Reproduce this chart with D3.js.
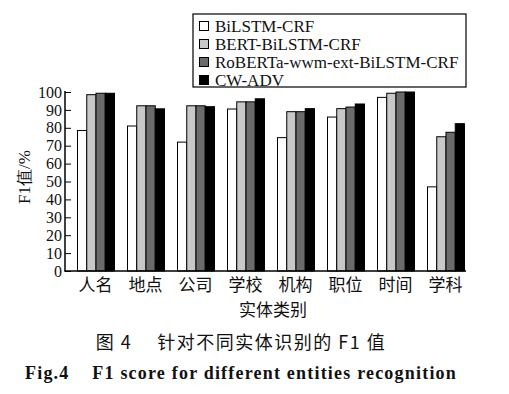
<!DOCTYPE html>
<html>
<head>
<meta charset="utf-8">
<script src="https://cdn.jsdelivr.net/npm/d3@7"></script>
<style>
  body { margin: 0; background: #fff; }
  text { fill: #111; }
</style>
</head>
<body>
<div id="chart"></div>
<script>
// DATA
var categories = ['人名', '地点', '公司', '学校', '机构', '职位', '时间', '学科'];
var models = ['BiLSTM-CRF', 'BERT-BiLSTM-CRF', 'RoBERTa-wwm-ext-BiLSTM-CRF', 'CW-ADV'];
var bilstm   = [78.5, 81.0, 72.0, 90.5, 74.5, 86.0, 97.0, 47.0];
var bert     = [98.5, 92.3, 92.3, 94.5, 89.0, 90.7, 99.3, 75.0];
var roberta  = [99.3, 92.3, 92.3, 94.5, 89.0, 91.6, 100.0, 77.5];
var cwadv    = [99.3, 90.6, 91.8, 96.2, 90.7, 93.3, 100.0, 82.3];
var yTicks   = [0, 10, 20, 30, 40, 50, 60, 70, 80, 90, 100];
var colors   = ['#ffffff', '#c8c8c8', '#6b6b6b', '#000000'];

var series = [bilstm, bert, roberta, cwadv];

// SETUP
var width = 509, height = 394;
var svg = d3.select('#chart').append('svg')
    .attr('width', width).attr('height', height);

var x0 = d3.scaleBand()
    .domain(categories)
    .range([70.5, 470.5])
    .paddingInner(0.26)
    .paddingOuter(0.13);

var x1 = d3.scaleBand()
    .domain(d3.range(models.length))
    .range([0, x0.bandwidth()]);

var y = d3.scaleLinear().domain([0, 100]).range([271, 92]);

var serif = '"Liberation Serif", "DejaVu Serif", serif';
var cjk = '"Noto Sans CJK SC", sans-serif';

// bars
categories.forEach(function(c, i) {
  var g = svg.append('g').attr('transform', 'translate(' + x0(c) + ',0)');
  series.forEach(function(s, k) {
    g.append('rect')
      .attr('x', x1(k) + 0.5)
      .attr('y', y(s[i]))
      .attr('width', x1.bandwidth())
      .attr('height', y(0) - y(s[i]))
      .attr('fill', colors[k])
      .attr('stroke', '#000')
      .attr('stroke-width', 1);
  });
});

// y axis (ticks pointing inward)
var yAxis = svg.append('g')
    .attr('transform', 'translate(65,0)')
    .call(d3.axisRight(y).tickValues(yTicks).tickSize(6).tickFormat(d3.format('d')));
yAxis.select('.domain').remove();
yAxis.selectAll('line').attr('stroke', '#000');
yAxis.selectAll('text')
    .attr('x', -3)
    .attr('text-anchor', 'end')
    .style('font-family', serif)
    .style('font-size', '16px')
    .attr('fill', '#111');

svg.append('line').attr('x1', 65).attr('x2', 65).attr('y1', 91).attr('y2', 271.5)
    .attr('stroke', '#000').attr('stroke-width', 1.5);
svg.append('line').attr('x1', 64.5).attr('x2', 466).attr('y1', 271).attr('y2', 271)
    .attr('stroke', '#000').attr('stroke-width', 1.5);

// x labels
svg.selectAll('.xlab')
  .data(categories)
  .enter().append('text')
    .attr('x', function(d) { return x0(d) + x0.bandwidth() / 2; })
    .attr('y', 291)
    .attr('text-anchor', 'middle')
    .style('font-family', cjk)
    .style('font-size', '17px')
    .text(function(d) { return d; });

svg.append('text')
    .attr('x', 273).attr('y', 316)
    .attr('text-anchor', 'middle')
    .style('font-family', cjk)
    .style('font-size', '17px')
    .text('实体类别');

svg.append('text')
    .attr('transform', 'translate(30,177) rotate(-90)')
    .attr('text-anchor', 'middle')
    .style('font-family', serif)
    .style('font-size', '17px')
    .text('F1值/%');

// legend
svg.append('rect')
    .attr('x', 193).attr('y', 14).attr('width', 273).attr('height', 73)
    .attr('fill', '#fff').attr('stroke', '#000').attr('stroke-width', 1.2);

models.forEach(function(m, k) {
  var ly = 26 + k * 18;
  svg.append('rect')
    .attr('x', 199.5).attr('y', ly - 4.5).attr('width', 9).attr('height', 9)
    .attr('fill', colors[k]).attr('stroke', '#000').attr('stroke-width', 1);
  svg.append('text')
    .attr('x', 215).attr('y', ly + 5.5)
    .style('font-family', serif)
    .style('font-size', '17px')
    .text(m);
});

// caption
svg.append('text')
    .attr('x', 241).attr('y', 349)
    .attr('text-anchor', 'middle')
    .style('font-family', cjk)
    .style('font-size', '18px')
    .style('letter-spacing', '1.5px')
    .attr('xml:space', 'preserve')
    .text('图 4　 针对不同实体识别的 F1 值');

svg.append('text')
    .attr('x', 241).attr('y', 379)
    .attr('text-anchor', 'middle')
    .style('font-family', serif)
    .style('font-size', '18px')
    .style('font-weight', 'bold')
    .style('letter-spacing', '1.2px')
    .attr('xml:space', 'preserve')
    .text('Fig.4    F1 score for different entities recognition');
</script>
</body>
</html>
